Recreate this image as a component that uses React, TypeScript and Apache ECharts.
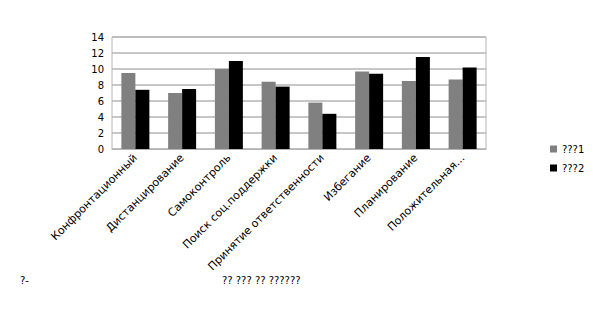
import React, { useEffect, useRef } from "react";
import * as echarts from "echarts";

const categories = [
  "Конфронтационный",
  "Дистанцирование",
  "Самоконтроль",
  "Поиск соц.поддержки",
  "Принятие ответственности",
  "Избегание",
  "Планирование",
  "Положительная...",
];
const series1Name = "???1";
const series2Name = "???2";
const series1 = [9.5, 7.0, 10.0, 8.4, 5.8, 9.7, 8.5, 8.7];
const series2 = [7.4, 7.5, 11.0, 7.8, 4.4, 9.4, 11.5, 10.2];
const yTicks = { min: 0, max: 14, interval: 2 };
const bottomLeftText = "?-";
const bottomText = "?? ??? ?? ??????";

export default function App() {
  const ref = useRef<HTMLDivElement>(null);
  useEffect(() => {
    document.body.style.margin = "0";
    const chart = echarts.init(ref.current!, null, { renderer: "svg" });
    const font = "DejaVu Sans";
    chart.setOption({
      animation: false,
      backgroundColor: "#ffffff",
      textStyle: { fontFamily: font },
      grid: {
        left: 112,
        right: 119,
        top: 37,
        bottom: 160,
        show: true,
        borderColor: "#b4b4b4",
        borderWidth: 1,
      },
      legend: {
        orient: "vertical",
        left: 545,
        top: 139,
        itemWidth: 7,
        itemHeight: 7,
        itemGap: 9,
        icon: "rect",
        textStyle: { fontSize: 10, color: "#000", fontFamily: font },
        data: [series1Name, series2Name],
      },
      xAxis: {
        type: "category",
        data: categories,
        axisLine: { show: true, lineStyle: { color: "#b4b4b4" } },
        axisTick: { show: false },
        axisLabel: {
          rotate: 45,
          interval: 0,
          fontSize: 11,
          color: "#000",
          fontFamily: font,
          margin: 7,
        },
      },
      yAxis: {
        type: "value",
        min: yTicks.min,
        max: yTicks.max,
        interval: yTicks.interval,
        axisLine: { show: false },
        axisTick: { show: false },
        splitLine: { lineStyle: { color: "#b4b4b4", width: 1.5 } },
        axisLabel: { fontSize: 10, color: "#000", fontFamily: font, margin: 8 },
      },
      series: [
        {
          name: series1Name,
          type: "bar",
          data: series1,
          barWidth: 14,
          barGap: "0%",
          itemStyle: { color: "#808080" },
        },
        {
          name: series2Name,
          type: "bar",
          data: series2,
          barWidth: 14,
          barGap: "0%",
          itemStyle: { color: "#000000" },
        },
      ],
      graphic: [
        {
          type: "text",
          left: 20,
          top: 275,
          style: { text: bottomLeftText, fontSize: 10, fill: "#000", fontFamily: font },
        },
        {
          type: "text",
          left: 222,
          top: 275,
          style: { text: bottomText, fontSize: 10, fill: "#000", fontFamily: font },
        },
      ],
    });
    return () => chart.dispose();
  }, []);
  return <div ref={ref} style={{ width: 605, height: 309 }} />;
}
